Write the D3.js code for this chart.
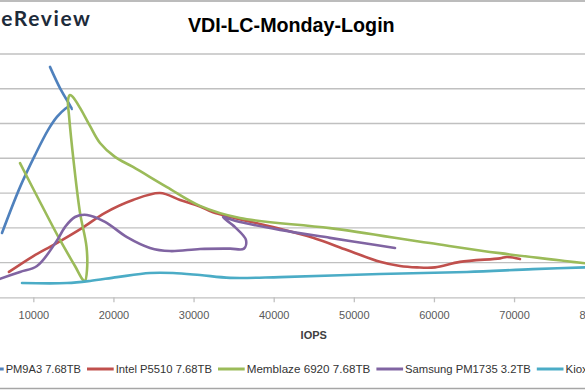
<!DOCTYPE html>
<html><head><meta charset="utf-8">
<script src="https://cdn.jsdelivr.net/npm/d3@7"></script>
<style>html,body{margin:0;padding:0;background:#fff;overflow:hidden}</style>
</head><body>
<svg id="c" width="585" height="390"></svg>
<script>
// ---- data ----
const chartTitle = "VDI-LC-Monday-Login";
const xAxisTitle = "IOPS";
const xTickValues = [0, 10000, 20000, 30000, 40000, 50000, 60000, 70000, 80000, 90000];
const yTickValues = [0, 0.1, 0.2, 0.3, 0.4, 0.5, 0.6, 0.7];

const seriesNames = ["PM9A3 7.68TB", "Intel P5510 7.68TB", "Memblaze 6920 7.68TB", "Samsung PM1735 3.2TB", "Kioxia CD6 7.68TB"];
const seriesColors = ["#4F81BD", "#C0504D", "#9BBB59", "#8064A2", "#4BACC6"];

const pm9a3Iops = [6090, 8340, 10210, 11830, 12950, 13950, 14580, 14830, 13330, 12080];
const pm9a3Lat  = [0.185, 0.317, 0.409, 0.481, 0.519, 0.542, 0.550, 0.542, 0.602, 0.663];

const p5510Iops = [6960, 9960, 12710, 16070, 18950, 22440, 25810, 28310, 30800, 32420, 39910, 44900, 49150, 53270, 55760, 57880, 60130, 63250, 68240, 69110, 70740];
const p5510Lat  = [0.073, 0.118, 0.153, 0.199, 0.243, 0.280, 0.300, 0.280, 0.261, 0.245, 0.202, 0.171, 0.136, 0.102, 0.090, 0.086, 0.086, 0.102, 0.112, 0.116, 0.110];

const mb6920Iops = [8340, 10710, 13330, 15200, 16200, 16450, 16700, 16640, 15830, 15080, 14450, 14330, 14580, 14950, 15830, 17070, 18320, 20190, 22440, 26680, 30800, 35790, 47030, 59510, 68240, 80000];
const mb6920Lat  = [0.386, 0.280, 0.165, 0.090, 0.050, 0.047, 0.079, 0.145, 0.243, 0.381, 0.524, 0.568, 0.582, 0.576, 0.545, 0.493, 0.444, 0.404, 0.375, 0.317, 0.263, 0.228, 0.199, 0.156, 0.127, 0.095];

const pm1735Iops = [5840, 8340, 10460, 12830, 13950, 15200, 16700, 18950, 21690, 24560, 27060, 30800, 34550, 36290, 36540, 35170, 33670, 35170, 40790, 47030, 51140, 55140];
const pm1735Lat  = [0.053, 0.073, 0.090, 0.159, 0.202, 0.231, 0.237, 0.217, 0.173, 0.142, 0.133, 0.139, 0.140, 0.140, 0.165, 0.202, 0.231, 0.220, 0.194, 0.171, 0.156, 0.142];

const cd6Iops = [8590, 14200, 17070, 20440, 24560, 27430, 30800, 34550, 40790, 53270, 64120, 72360, 80000];
const cd6Lat  = [0.041, 0.041, 0.047, 0.058, 0.070, 0.070, 0.064, 0.056, 0.058, 0.067, 0.073, 0.081, 0.087];

const seriesIops = [pm9a3Iops, p5510Iops, mb6920Iops, pm1735Iops, cd6Iops];
const seriesLat  = [pm9a3Lat, p5510Lat, mb6920Lat, pm1735Lat, cd6Lat];

// ---- layout ----
const W = 585, H = 390;
const plot = {left: -46.8, right: 674.3, top: 54, bottom: 297.3};
const svg = d3.select("#c");
svg.append("rect").attr("width", W).attr("height", H).attr("fill", "#fff");

const x = d3.scaleLinear().domain([0, 90000]).range([plot.left, plot.right]);
const y = d3.scaleLinear().domain([0, 0.7]).range([plot.bottom, plot.top]);

// frame lines (chart border, cropped)
svg.append("line").attr("x1", 0).attr("x2", W).attr("y1", 1).attr("y2", 1)
  .attr("stroke", "#a6a6a6").attr("stroke-width", 1.5);
svg.append("line").attr("x1", 0).attr("x2", W).attr("y1", 388.5).attr("y2", 388.5)
  .attr("stroke", "#a6a6a6").attr("stroke-width", 1.5);

// logo
svg.append("text").attr("x", 91.5).attr("y", 26).attr("text-anchor", "end")
  .attr("font-family", "Lato, 'Open Sans', sans-serif").attr("font-size", 21)
  .attr("font-weight", 700).attr("fill", "#1d2b3a").attr("letter-spacing", 1.6)
  .text("StorageReview");

// title
svg.append("text").attr("x", 291.3).attr("y", 32).attr("text-anchor", "middle")
  .attr("font-family", "'Liberation Sans', Arial, sans-serif").attr("font-size", 19.7)
  .attr("font-weight", 700).attr("fill", "#000").text(chartTitle);

// gridlines
svg.append("g").selectAll("line").data(yTickValues.filter(v => v > 0)).join("line")
  .attr("x1", plot.left).attr("x2", plot.right)
  .attr("y1", d => y(d)).attr("y2", d => y(d))
  .attr("stroke", "#c0c0c0").attr("stroke-width", 1.3);

// x axis
const xAxis = svg.append("g").attr("transform", `translate(0,${plot.bottom})`)
  .call(d3.axisBottom(x).tickValues(xTickValues).tickSize(5).tickPadding(9).tickSizeOuter(0).tickFormat(d3.format("d")));
xAxis.select(".domain").attr("stroke", "#c0c0c0").attr("stroke-width", 1.3);
xAxis.selectAll(".tick line").attr("stroke", "#c0c0c0").attr("stroke-width", 1.3);
xAxis.selectAll("text").attr("font-family", "'Liberation Sans', Arial, sans-serif")
  .attr("font-size", 11).attr("fill", "#595959");

svg.append("text").attr("x", (plot.left + plot.right) / 2).attr("y", 339)
  .attr("text-anchor", "middle").attr("font-family", "'Liberation Sans', Arial, sans-serif")
  .attr("font-size", 11).attr("font-weight", 700).attr("fill", "#404040").text(xAxisTitle);

// series
const line = d3.line().x(d => x(d[0])).y(d => y(d[1])).curve(d3.curveCatmullRom.alpha(0.5));
const gLines = svg.append("g");
seriesNames.forEach((name, i) => {
  const pts = seriesIops[i].map((v, j) => [v, seriesLat[i][j]]);
  gLines.append("path").datum(pts).attr("d", line)
    .attr("fill", "none").attr("stroke", seriesColors[i]).attr("stroke-width", 2.6)
    .attr("stroke-linecap", "round").attr("stroke-linejoin", "round");
});

// legend (text widths fitted to the Calibri-like legend font of the reference)
const legendTextWidths = [75.3, 96.3, 123.7, 125.7, null];
const legY = 369;
const leg = svg.append("g");
let cx = -23;
seriesNames.forEach((name, i) => {
  leg.append("line").attr("x1", cx).attr("x2", cx + 26.7).attr("y1", legY).attr("y2", legY)
    .attr("stroke", seriesColors[i]).attr("stroke-width", 3);
  const t = leg.append("text").attr("x", cx + 28.7).attr("y", legY + 4)
    .attr("font-family", "'Liberation Sans', Arial, sans-serif").attr("font-size", 11.5)
    .attr("fill", "#333").text(name);
  let w = t.node().getComputedTextLength();
  if (legendTextWidths[i]) {
    t.attr("textLength", legendTextWidths[i]).attr("lengthAdjust", "spacingAndGlyphs");
    w = legendTextWidths[i];
  }
  cx += 28.7 + w + 6;
});
</script>
</body></html>
